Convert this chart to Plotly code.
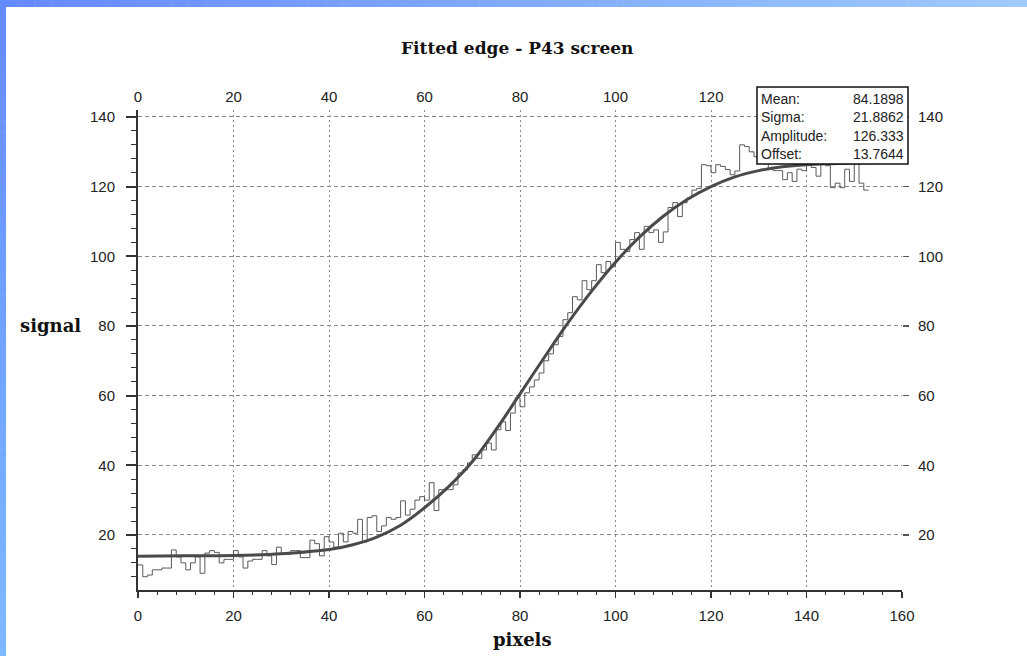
import plotly.graph_objects as go

# ---------------- data ----------------
# histogram: one value per 1-pixel bin, bins 0..152
signal = [
    11.4, 8.0, 8.5, 10.0, 10.0, 10.5, 10.5, 15.7, 13.7, 12.0,
    10.0, 12.0, 13.7, 9.0, 14.8, 15.5, 15.0, 12.0, 13.0, 13.0,
    15.5, 13.7, 10.5, 12.5, 13.0, 13.0, 15.5, 14.0, 11.5, 16.5,
    14.5, 14.5, 15.5, 15.5, 13.5, 13.5, 18.5, 17.5, 14.0, 19.5,
    18.0, 16.5, 20.5, 18.0, 21.0, 20.5, 24.5, 18.0, 25.0, 25.5,
    21.0, 22.6, 25.0, 24.5, 25.0, 29.8, 25.7, 27.4, 30.0, 31.0,
    30.0, 35.0, 27.0, 33.0, 33.0, 33.0, 34.4, 37.8, 38.7, 40.7,
    43.0, 42.0, 44.4, 46.4, 44.4, 50.2, 52.5, 50.0, 55.0, 59.4,
    56.8, 60.8, 62.5, 64.5, 66.5, 70.0, 72.0, 74.6, 77.0, 81.8,
    83.8, 88.4, 87.5, 93.0, 90.4, 93.0, 97.6, 95.3, 98.5, 97.0,
    104.0, 102.0, 101.4, 104.8, 106.8, 102.0, 108.6, 106.8, 107.6, 104.0,
    107.0, 114.0, 115.4, 111.4, 115.4, 116.8, 119.0, 119.5, 126.3, 126.0,
    124.0, 126.3, 125.8, 124.9, 123.4, 124.5, 132.0, 131.5, 130.0, 128.6,
    130.0, 126.9, 125.0, 124.6, 124.6, 122.0, 124.0, 121.5, 125.0, 124.6,
    127.0, 125.5, 123.0, 127.0, 126.0, 119.7, 121.0, 119.7, 125.0, 121.5,
    127.0, 121.0, 119.0,
]
bin_edges = list(range(len(signal) + 1))

# fitted edge curve
fit_x = [0, 10, 20, 30, 40, 45, 50, 55, 60, 65, 70, 75, 80, 85, 90, 95,
         100, 105, 110, 115, 120, 125, 130, 135, 140, 145, 150, 155, 160]
fit_y = [13.9, 14.0, 14.1, 14.6, 15.8, 17.2, 19.4, 22.8, 27.8, 33.8, 41.0, 50.3,
         60.5, 70.8, 80.8, 90.0, 98.3, 105.5, 111.5, 116.3, 120.0, 122.8, 124.6,
         125.7, 126.3, 126.6, 126.8, 126.9, 127.0]

x_ticks = [0, 20, 40, 60, 80, 100, 120, 140, 160]
x_tick_labels = ["0", "20", "40", "60", "80", "100", "120", "140", "160"]
# on the top axis, 140 and 160 sit under the fit box
x_top_labels = ["0", "20", "40", "60", "80", "100", "120", "", ""]
y_ticks = [20, 40, 60, 80, 100, 120, 140]

fit_labels = ["Mean:", "Sigma:", "Amplitude:", "Offset:"]
fit_values = ["84.1898", "21.8862", "126.333", "13.7644"]

title_text = "Fitted edge - P43 screen"
x_title = "pixels"
y_title = "signal"

# ---------------- layout constants ----------------
W, H = 1027, 656
L, R, T, B = 138, 902, 110, 590
PW, PH = R - L, B - T


def px(x):
    return (x - L) / PW


def py(y):
    return (B - y) / PH


SANS = "Liberation Sans, Arial, sans-serif"
SERIF = "DejaVu Serif, Liberation Serif, serif"
INK = "#222222"

fig = go.Figure()

fig.add_trace(go.Scatter(
    x=bin_edges, y=signal + [signal[-1]], mode="lines",
    line=dict(shape="hv", color="#5a5a5a", width=1),
    showlegend=False, hoverinfo="skip",
))

fig.add_trace(go.Scatter(
    x=fit_x, y=fit_y, mode="lines", xaxis="x2", yaxis="y2",
    line=dict(shape="spline", smoothing=1.0, color="#4a4a4a", width=3),
    showlegend=False, hoverinfo="skip",
))

yr = [4.2, 142.0]

shapes = []
# blue gradient frame (top and left strips)
n = 60
c0, c1 = (100, 138, 255), (158, 202, 252)
for i in range(n):
    t = i / (n - 1)
    col = "rgb(%d,%d,%d)" % tuple(round(a + (b - a) * t) for a, b in zip(c0, c1))
    shapes.append(dict(type="rect", xref="paper", yref="paper",
                       x0=px(W * i / n), x1=px(W * (i + 1) / n + 0.5),
                       y0=py(7), y1=py(0), fillcolor=col, line=dict(width=0),
                       layer="above"))
l0, l1 = (100, 138, 255), (125, 185, 255)
for i in range(n):
    t = i / (n - 1)
    col = "rgb(%d,%d,%d)" % tuple(round(a + (b - a) * t) for a, b in zip(l0, l1))
    shapes.append(dict(type="rect", xref="paper", yref="paper",
                       x0=px(0), x1=px(6),
                       y0=py(H * (i + 1) / n + 0.5), y1=py(H * i / n),
                       fillcolor=col, line=dict(width=0), layer="above"))

# fit-parameter box
shapes.append(dict(type="rect", xref="paper", yref="paper",
                   x0=px(757), x1=px(908), y0=py(164), y1=py(87),
                   fillcolor="white", line=dict(color="#111111", width=1.5),
                   layer="above"))

annotations = [
    dict(text="<b>%s</b>" % title_text, x=px(517), y=py(48), xref="paper", yref="paper",
         showarrow=False, font=dict(family=SERIF, size=17, color="#111111"),
         xanchor="center", yanchor="middle"),
    dict(text="<b>%s</b>" % x_title, x=px(522), y=py(639), xref="paper", yref="paper",
         showarrow=False, font=dict(family=SERIF, size=18, color="#111111"),
         xanchor="center", yanchor="middle"),
    dict(text="<b>%s</b>" % y_title, x=px(50), y=py(325), xref="paper", yref="paper",
         showarrow=False, font=dict(family=SERIF, size=18, color="#111111"),
         xanchor="center", yanchor="middle"),
]
row_y = [99, 117, 136, 154]
for lab, val, ry in zip(fit_labels, fit_values, row_y):
    annotations.append(dict(text=lab, x=px(759), y=py(ry), xref="paper", yref="paper",
                            showarrow=False, xanchor="left", yanchor="middle",
                            font=dict(family=SANS, size=14, color=INK)))
    annotations.append(dict(text=val, x=px(906), y=py(ry), xref="paper", yref="paper",
                            showarrow=False, xanchor="right", yanchor="middle",
                            font=dict(family=SANS, size=14, color=INK)))

fig.update_layout(
    width=W, height=H, autosize=False,
    margin=dict(l=L, r=W - R, t=T, b=H - B, pad=0),
    paper_bgcolor="white", plot_bgcolor="white",
    showlegend=False,
    xaxis=dict(
        range=[0, 160], tickmode="array", tickvals=x_ticks, ticktext=x_tick_labels,
        showgrid=True, gridcolor="#8a8a8a", gridwidth=1, griddash="2px,3px",
        showline=True, linecolor="#333333", linewidth=2,
        ticks="outside", ticklen=6, tickwidth=1.5, tickcolor="#333333",
        minor=dict(tick0=0, dtick=4, ticks="outside", ticklen=3, tickwidth=1,
                   tickcolor="#333333", showgrid=False),
        tickfont=dict(family=SANS, size=15, color=INK),
        ticklabelstandoff=5,
        zeroline=False, fixedrange=True,
    ),
    yaxis=dict(
        range=yr, tickmode="array", tickvals=y_ticks,
        showgrid=True, gridcolor="#8a8a8a", gridwidth=1, griddash="4px,3px",
        showline=True, linecolor="#333333", linewidth=2,
        ticks="outside", ticklen=10, tickwidth=2, tickcolor="#333333",
        minor=dict(tick0=0, dtick=4, ticks="outside", ticklen=5, tickwidth=1,
                   tickcolor="#333333", showgrid=False),
        tickfont=dict(family=SANS, size=15, color=INK),
        ticklabelstandoff=8,
        zeroline=False, fixedrange=True,
    ),
    xaxis2=dict(
        overlaying="x", side="top", range=[0, 160], tickmode="array",
        tickvals=x_ticks, ticktext=x_top_labels, showgrid=False, showline=False,
        ticks="", tickfont=dict(family=SANS, size=15, color=INK),
        ticklabelstandoff=4,
        zeroline=False, fixedrange=True,
    ),
    yaxis2=dict(
        overlaying="y", side="right", range=yr, tickmode="array",
        tickvals=y_ticks, showgrid=False, showline=False,
        ticks="outside", ticklen=6, tickwidth=1.5, tickcolor="#555555",
        tickfont=dict(family=SANS, size=15, color=INK),
        ticklabelstandoff=6,
        zeroline=False, fixedrange=True,
    ),
    shapes=shapes,
    annotations=annotations,
)

fig.write_html(
    "out.html",
    config={"displayModeBar": False, "staticPlot": True},
    post_script="document.body.style.margin='0px';document.body.style.overflow='hidden';",
)
